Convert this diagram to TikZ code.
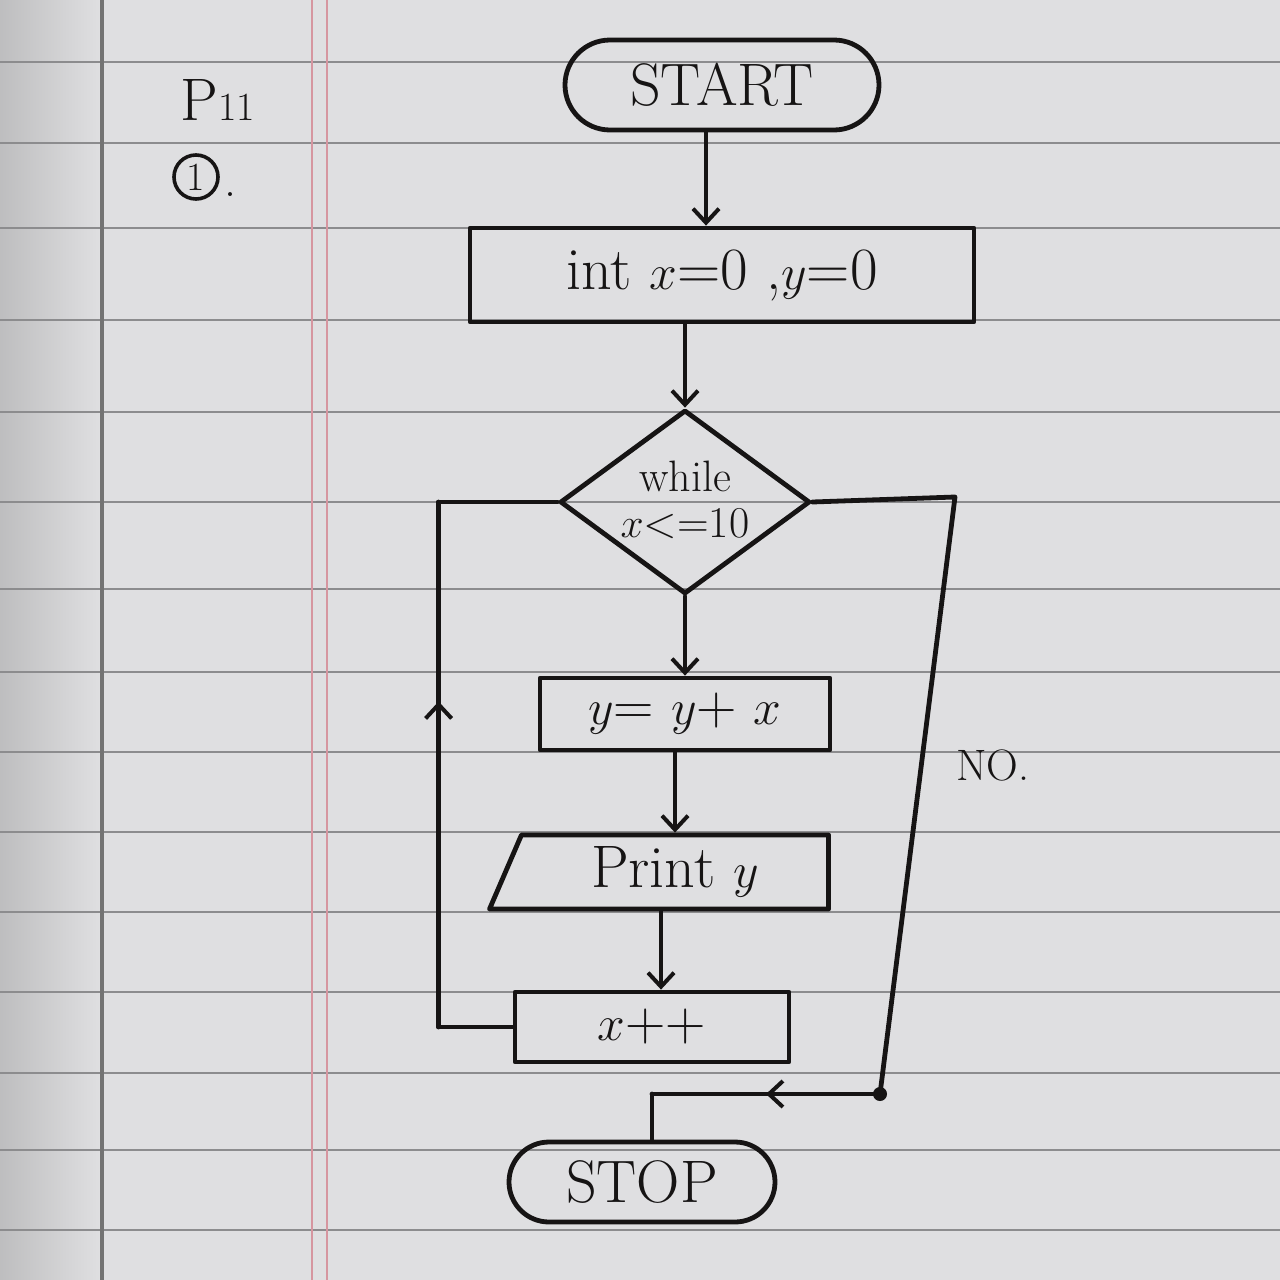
\documentclass[tikz,border=0pt]{standalone}
\usetikzlibrary{shapes.geometric,shapes.misc,arrows.meta,decorations.markings,calc}
\definecolor{paper}{RGB}{223,223,225}
\definecolor{rule}{RGB}{140,140,142}
\definecolor{margin}{RGB}{214,150,160}
\definecolor{inkc}{RGB}{22,20,20}
\begin{document}
\begin{tikzpicture}[x=0.5pt,y=-0.5pt,
  ink/.style={draw=inkc, line width=2.4pt, line cap=round, line join=round},
  arr/.style={ink,-{Straight Barb[length=7pt,width=13pt,line width=2pt]}},
  midarr/.style={postaction={decorate},decoration={markings,
     mark=at position #1 with {\arrow[inkc]{Straight Barb[length=7pt,width=13pt,line width=2pt]}}}},
  big/.style={font=\fontsize{30}{32}\selectfont, text=inkc},
  mid/.style={font=\fontsize{28}{30}\selectfont, text=inkc},
  term/.style={ink, rounded rectangle, inner sep=0pt, big},
  proc/.style={ink, rectangle, inner sep=0pt},
  ruled/.style={draw=rule, line width=1pt},
]
\useasboundingbox (0,0) rectangle (1280,1280);
% paper
\fill[paper] (0,0) rectangle (1280,1280);
\shade[left color=paper!85!black, right color=paper] (0,0) rectangle (100,1280);
\foreach \yy in {62,143,228,320,412,502,589,672,752,832,912,992,1073,1150,1230}
  \draw[ruled] (0,\yy) -- (1280,\yy);
\draw[draw=black!55, line width=2pt] (102,0) -- (102,1280);
\draw[draw=margin, line width=1.2pt] (312,0) -- (312,1280);
\draw[draw=margin, line width=1.2pt] (327,0) -- (327,1280);

% nodes
\node[term, minimum width=157pt, minimum height=45pt] (start) at (722,85) {START};
\node[proc, big, minimum width=252pt, minimum height=47pt] (init) at (722,275) {int $x$=0 ,$y$=0};
\node[ink, diamond, inner sep=0pt, minimum width=125pt, minimum height=92pt] (cond) at (685,502) {};
\node[text=inkc, align=center, font=\fontsize{22}{23}\selectfont] (condtxt) at ([yshift=1pt]cond.center) {while\\$x$<=10};
\node[proc, mid, minimum width=145pt, minimum height=36pt] (upd) at (685,714) {$y$= $y$+ $x$};
\node[ink, trapezium, trapezium left angle=71, trapezium right angle=90, trapezium stretches=true,
      minimum width=171pt, minimum height=37pt, inner sep=0pt, big] (print) at (675,872) {Print $y$};
\node[proc, mid, minimum width=137pt, minimum height=35pt] (inc) at (652,1027) {$x$++};
\node[term, minimum width=133pt, minimum height=40pt] (stop) at (642,1182) {STOP};

\node[font=\fontsize{30}{32}\selectfont, text=inkc] (p11) at (218,100) {P{\fontsize{20}{20}\selectfont 11}};
\node[draw=inkc, line width=1.8pt, circle, minimum size=22pt, inner sep=0pt,
      font=\fontsize{20}{20}\selectfont, text=inkc] (c1) at (196,177) {1};
\node[font=\fontsize{24}{24}\selectfont, text=inkc, anchor=south west, inner sep=0pt] (c1dot) at ([xshift=2pt,yshift=-10pt]c1.east) {.};
\node[font=\fontsize{22}{24}\selectfont, text=inkc] (no) at (993,765) {NO.};

% connectors
\coordinate (a1) at ([xshift=-8pt]start.south);
\draw[arr] (a1) -- (a1 |- init.north);
\coordinate (a2) at (cond.north |- init.south);
\draw[arr] (a2) -- (cond.north);
\draw[arr] (cond.south) -- (upd.north);
\coordinate (a3) at ([xshift=-5pt]upd.south);
\draw[arr] (a3) -- (a3 |- print.north);
\coordinate (a4) at ([xshift=-7pt]print.south);
\draw[arr] (a4) -- (a4 |- inc.north);

% loop back
\coordinate (lb) at ([xshift=-37pt]inc.west);
\coordinate (lt) at (lb |- cond.west);
\draw[ink] (inc.west) -- (lb);
\draw[ink, midarr=0.62] (lb) -- (lt);
\draw[ink] (lt) -- (cond.west);

% NO branch
\coordinate (n1) at (955,497);
\coordinate (n2) at (880,1094);
\coordinate (n3) at ([xshift=5pt]stop.north |- n2);
\coordinate (n4) at ([xshift=5pt]stop.north);
\draw[ink] (cond.east) -- (n1) -- (n2);
\fill[inkc] (n2) circle (3.5pt);
\draw[ink, midarr=0.5] (n2) -- (n3);
\draw[ink] (n3) -- (n4);
\end{tikzpicture}
\end{document}
